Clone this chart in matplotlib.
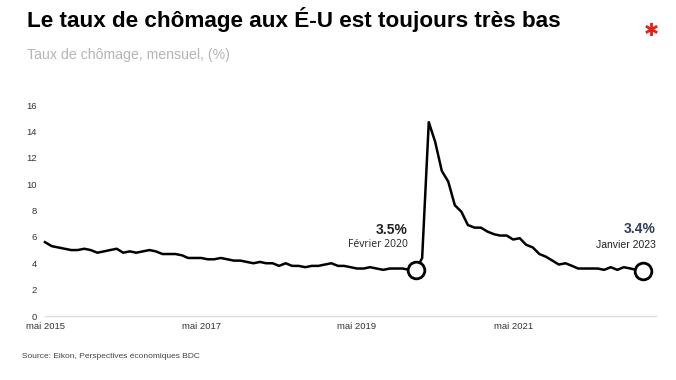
import numpy as np
import pandas as pd
import matplotlib
matplotlib.use("Agg")
import matplotlib.pyplot as plt
import matplotlib.dates as mdates

# Taux de chômage américain, mensuel (%), mai 2015 - janvier 2023
taux = [
    5.6, 5.3, 5.2, 5.1, 5.0, 5.0, 5.1, 5.0,                                # 2015 (mai-déc)
    4.8, 4.9, 5.0, 5.1, 4.8, 4.9, 4.8, 4.9, 5.0, 4.9, 4.7, 4.7,            # 2016
    4.7, 4.6, 4.4, 4.4, 4.4, 4.3, 4.3, 4.4, 4.3, 4.2, 4.2, 4.1,            # 2017
    4.0, 4.1, 4.0, 4.0, 3.8, 4.0, 3.8, 3.8, 3.7, 3.8, 3.8, 3.9,            # 2018
    4.0, 3.8, 3.8, 3.7, 3.6, 3.6, 3.7, 3.6, 3.5, 3.6, 3.6, 3.6,            # 2019
    3.5, 3.5, 4.4, 14.7, 13.2, 11.0, 10.2, 8.4, 7.9, 6.9, 6.7, 6.7,        # 2020
    6.4, 6.2, 6.1, 6.1, 5.8, 5.9, 5.4, 5.2, 4.7, 4.5, 4.2, 3.9,            # 2021
    4.0, 3.8, 3.6, 3.6, 3.6, 3.6, 3.5, 3.7, 3.5, 3.7, 3.6, 3.5,            # 2022
    3.4,                                                                   # 2023
]
mois = pd.date_range("2015-05-01", periods=len(taux), freq="MS")
ticks = pd.to_datetime(["2015-05-01", "2017-05-01", "2019-05-01", "2021-05-01"])
tick_labels = ["mai 2015", "mai 2017", "mai 2019", "mai 2021"]
yticks = [0, 2, 4, 6, 8, 10, 12, 14, 16]

pts = {"fev": pd.Timestamp("2020-02-01"), "jan": pd.Timestamp("2023-01-01")}

fig = plt.figure(figsize=(6.76, 3.8), dpi=100)
ax = fig.add_axes([45/676, 64/380, 611/676, 211/380])

ax.plot(mois, taux, color="black", lw=1.8, solid_joinstyle="round", clip_on=False, zorder=3)

s = pd.Series(taux, index=mois)
for k in pts:
    ax.plot(pts[k], s[pts[k]], "o", ms=12, mfc="white", mec="black", mew=2, zorder=4, clip_on=False)

ax.set_xlim(pd.Timestamp("2015-05-01"), pd.Timestamp("2023-03-01"))
ax.set_ylim(0, 16)
ax.set_xticks(ticks)
ax.set_xticklabels(tick_labels)
ax.set_yticks(yticks)
for sp in ["top", "right", "left"]:
    ax.spines[sp].set_visible(False)
ax.spines["bottom"].set_color("#e0e0e0")
ax.spines["bottom"].set_linewidth(1)
ax.tick_params(axis="both", length=0, labelsize=6.8, colors="#333333")
ax.tick_params(axis="y", pad=6)
ax.tick_params(axis="x", pad=4.5)
for t in ax.get_xticklabels() + ax.get_yticklabels():
    t.set_family("Liberation Sans")

# annotations
ax.annotate("3.5%", (pts["fev"], s[pts["fev"]]), xytext=(-6, 29), textcoords="offset points",
            ha="right", va="center", fontsize=10, fontweight="bold", color="#222222",
            family="Liberation Sans")
ax.annotate("Février 2020", (pts["fev"], s[pts["fev"]]), xytext=(-6, 18), textcoords="offset points",
            ha="right", va="center", fontsize=7.5, color="#222222", family="Open Sans")
ax.annotate("3.4%", (pts["jan"], s[pts["jan"]]), xytext=(9, 30), textcoords="offset points",
            ha="right", va="center", fontsize=10, fontweight="bold", color="#2d3e5c",
            family="Liberation Sans")
ax.annotate("Janvier 2023", (pts["jan"], s[pts["jan"]]), xytext=(9, 19), textcoords="offset points",
            ha="right", va="center", fontsize=7.5, color="#222222", family="Liberation Sans")

fig.text(27/676, 1 - 20/380, "Le taux de chômage aux É-U est toujours très bas",
         fontsize=16.2, fontweight="bold", family="Liberation Sans", va="center", ha="left")
fig.text(27/676, 1 - 55/380, "Taux de chômage, mensuel, (%)",
         fontsize=10.2, color="#b5b5b5", family="Liberation Sans", va="center", ha="left")
fig.text(651/676, 1 - 31/380, "✱", fontsize=13, color="#e2231a", family="DejaVu Sans",
         va="center", ha="center")
fig.text(22/676, 1 - 357/380, "Source: Eikon, Perspectives économiques BDC",
         fontsize=6, color="#444444", family="Liberation Sans", va="center", ha="left")

fig.savefig("out.png", dpi=100)
